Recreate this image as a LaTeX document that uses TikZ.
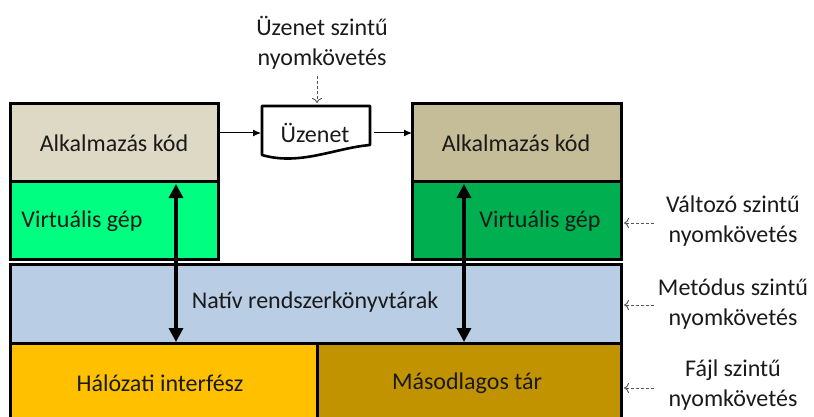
\documentclass[tikz,border=0pt]{standalone}
\usepackage{fontspec}
\setmainfont{Carlito}
\usetikzlibrary{arrows.meta,calc}
\definecolor{appL}{HTML}{DDD9C4}
\definecolor{appR}{HTML}{C4BD97}
\definecolor{vmL}{HTML}{00FF80}
\definecolor{vmR}{HTML}{00B050}
\definecolor{nat}{HTML}{B9CDE5}
\definecolor{net}{HTML}{FFC000}
\definecolor{sto}{HTML}{C29300}
\definecolor{txt}{HTML}{1A1A1A}
\definecolor{dashc}{HTML}{555555}
\tikzset{
  layer/.style={draw=black, line width=3pt, anchor=north west, inner sep=0pt, outer sep=0pt},
  lbl/.style={font=\fontsize{24}{29.5}\selectfont, text=txt, inner sep=0pt, align=center},
  thinarrow/.style={line width=1pt, -{Latex[length=8pt,width=7pt]}},
  bigarrow/.style={line width=3.2pt, {Triangle[length=14pt,width=14pt]}-{Triangle[length=14pt,width=14pt]}},
  trace/.style={line width=0.9pt, dash pattern=on 3pt off 2pt, dashc, -{To[length=5pt,width=10pt]}}
}
\begin{document}
\begin{tikzpicture}[x=1pt,y=-1pt]
\useasboundingbox (0,0) rectangle (814,417);
\clip (0,0) rectangle (814,417);
% boxes
\node[layer, fill=appL, minimum width=208pt, minimum height=77pt] (appLbox) at (10,104) {};
\node[layer, fill=vmL, minimum width=208pt, minimum height=78pt] (vmLbox) at (10,181) {};
\node[layer, fill=appR, minimum width=209pt, minimum height=77pt] (appRbox) at (412,104) {};
\node[layer, fill=vmR, minimum width=209pt, minimum height=78pt] (vmRbox) at (412,181) {};
\node[layer, fill=nat, minimum width=611pt, minimum height=79pt] (natbox) at (10,264) {};
\node[layer, fill=net, minimum width=307pt, minimum height=80pt] (netbox) at (10,343) {};
\node[layer, fill=sto, minimum width=304pt, minimum height=80pt] (stobox) at (317,343) {};
% texts
\node[lbl] (appLt) at (114,143) {Alkalmazás kód};
\node[lbl] (appRt) at (516,143) {Alkalmazás kód};
\node[lbl] (vmLt) at (82,221) {Virtuális gép};
\node[lbl] (vmRt) at (540,221) {Virtuális gép};
\node[lbl] (natt) at (315,302) {Natív rendszerkönyvtárak};
\node[lbl] (nett) at (160,383) {Hálózati interfész};
\node[lbl] (stot) at (467,383) {Másodlagos tár};
% message document
\draw[line width=2.6pt, fill=white, line join=round] (262,106) -- (370,106) -- (370,145)
  .. controls (335,148) and (300,166) .. (262,155) -- cycle;
\node[lbl] (msg) at (315,133) {Üzenet};
\coordinate (msgW) at (261,133);
\coordinate (msgE) at (374,133);
\draw[thinarrow] (appLbox.east |- msgW) -- (msgW);
\draw[thinarrow] (msgE) -- (appRbox.west |- msgE);
% big arrows
\coordinate (aLt) at (176,184);
\coordinate (aLb) at (176,342);
\coordinate (aRt) at (464,184);
\coordinate (aRb) at (464,342);
\draw[bigarrow] (aLt) -- (aLb);
\draw[bigarrow] (aRt) -- (aRb);
% trace labels
\node[lbl] (tmsg) at (322,43) {Üzenet szintű\\nyomkövetés};
\node[lbl] (tvar) at (733,221) {Változó szintű\\nyomkövetés};
\node[lbl] (tmet) at (733,304) {Metódus szintű\\nyomkövetés};
\node[lbl] (tfil) at (733,385) {Fájl szintű\\nyomkövetés};
\coordinate (tmsgE) at (317,103);
\draw[trace] (tmsg.south -| tmsgE) ++(0,6) -- (tmsgE);
\draw[trace] (654,223) -- (624,223);
\draw[trace] (654,305) -- (624,305);
\draw[trace] (654,388) -- (624,388);
\end{tikzpicture}
\end{document}
